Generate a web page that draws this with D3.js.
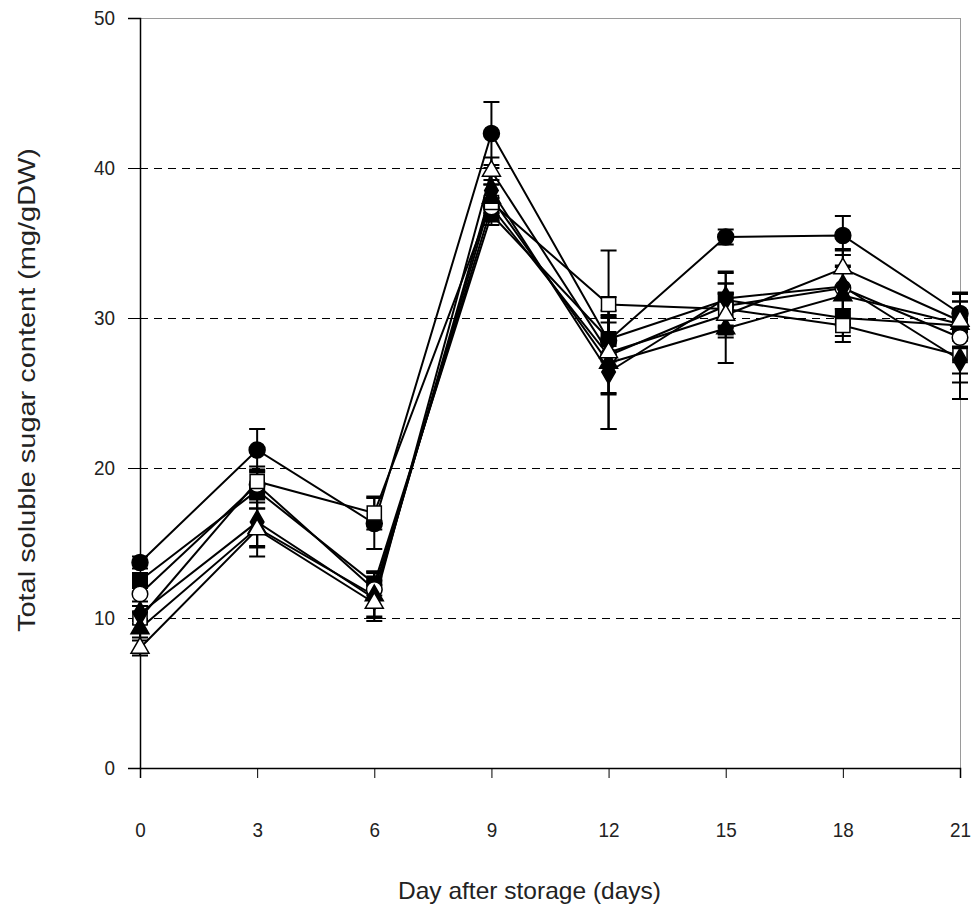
<!DOCTYPE html>
<html>
<head>
<meta charset="utf-8">
<script src="https://cdn.jsdelivr.net/npm/d3@7/dist/d3.min.js"></script>
<style>
  html, body { margin: 0; padding: 0; background: #fff; }
  svg { display: block; font-family: "Liberation Sans", Arial, sans-serif; }
</style>
</head>
<body>
<svg id="chart" width="977" height="916"></svg>
<script>
// Storage days sampled
const days = [0, 3, 6, 9, 12, 15, 18, 21];
const yTicks = [0, 10, 20, 30, 40, 50];

// Total soluble sugar (mg/gDW) per treatment, with standard errors
const filledCircle   = [13.7, 21.2, 16.3, 42.3, 28.5, 35.4, 35.5, 30.3];
const filledCircleE  = [0.4, 1.4, 1.7, 2.1, 1.2, 0.5, 1.3, 0.8];
const filledSquare   = [12.5, 18.5, 12.3, 36.9, 28.6, 31.2, 30.0, 29.5];
const filledSquareE  = [0.5, 1.2, 0.8, 0.7, 1.5, 1.8, 1.2, 1.0];
const openCircle     = [11.6, 18.9, 11.9, 37.4, 27.5, 30.8, 32.0, 28.7];
const openCircleE    = [0.5, 1.0, 1.2, 0.6, 2.5, 1.5, 1.4, 3.0];
const openSquare     = [10.0, 19.1, 17.0, 37.7, 30.9, 30.6, 29.5, 27.5];
const openSquareE    = [0.4, 1.0, 1.1, 1.2, 3.6, 1.7, 1.1, 1.2];
const filledDiamond  = [10.3, 16.4, 11.3, 38.5, 26.4, 31.3, 32.1, 27.2];
const filledDiamondE = [0.5, 1.6, 1.2, 1.5, 3.8, 1.8, 2.5, 2.6];
const filledTriangle = [9.3, 16.0, 11.5, 38.0, 27.0, 29.3, 31.5, 29.6];
const filledTriangleE= [0.6, 1.3, 1.5, 1.2, 4.4, 2.3, 2.0, 1.5];
const openTriangle   = [8.0, 15.9, 11.0, 39.8, 27.7, 30.2, 33.3, 29.8];
const openTriangleE  = [0.5, 1.8, 1.2, 0.9, 2.8, 1.5, 1.2, 1.8];

const series = [
  { values: filledCircle,   errors: filledCircleE,   shape: d3.symbolCircle,   size: 200, fill: "#000" },
  { values: filledSquare,   errors: filledSquareE,   shape: d3.symbolSquare,   size: 210, fill: "#000" },
  { values: openCircle,     errors: openCircleE,     shape: d3.symbolCircle,   size: 190, fill: "#fff" },
  { values: openSquare,     errors: openSquareE,     shape: d3.symbolSquare,   size: 200, fill: "#fff" },
  { values: filledDiamond,  errors: filledDiamondE,  shape: d3.symbolDiamond,  size: 160, fill: "#000" },
  { values: filledTriangle, errors: filledTriangleE, shape: d3.symbolTriangle, size: 140, fill: "#000" },
  { values: openTriangle,   errors: openTriangleE,   shape: d3.symbolTriangle, size: 140, fill: "#fff" }
];

const margin = { top: 18, right: 17, bottom: 148, left: 140 };
const W = 977, H = 916;
const iw = W - margin.left - margin.right;
const ih = H - margin.top - margin.bottom;

const svg = d3.select("#chart");
const g = svg.append("g").attr("transform", `translate(${margin.left},${margin.top})`);

const x = d3.scaleLinear().domain([0, 21]).range([0, iw]);
const y = d3.scaleLinear().domain([0, 50]).range([ih, 0]);

// plot frame (top and right)
g.append("line").attr("x1", 0).attr("x2", iw).attr("y1", 0).attr("y2", 0)
  .attr("stroke", "#9a9a9a").attr("stroke-width", 1).attr("shape-rendering", "crispEdges");
g.append("line").attr("x1", iw).attr("x2", iw).attr("y1", 0).attr("y2", ih)
  .attr("stroke", "#9a9a9a").attr("stroke-width", 1).attr("shape-rendering", "crispEdges");

// dashed gridlines
g.selectAll(".grid").data(yTicks.filter(t => t > 0 && t < 50)).enter()
  .append("line")
  .attr("x1", 0).attr("x2", iw)
  .attr("y1", d => y(d)).attr("y2", d => y(d))
  .attr("stroke", "#000").attr("stroke-width", 1)
  .attr("shape-rendering", "crispEdges")
  .attr("stroke-dasharray", "8,6");

// narrow-set tick numerals
function styleTickText(sel) {
  sel.style("font-size", "21px").attr("fill", "#222")
    .style("font-family", "'Liberation Sans', Arial, sans-serif")
    .attr("textLength", function () { return 10.5 * this.textContent.length; })
    .attr("lengthAdjust", "spacingAndGlyphs");
}

// y axis
const yAxis = g.append("g").call(
  d3.axisLeft(y).tickValues(yTicks).tickSize(12).tickPadding(13).tickFormat(d3.format("d"))
);
yAxis.attr("font-size", null).attr("font-family", null);
yAxis.select(".domain").attr("stroke", "#000").attr("stroke-width", 1.5);
yAxis.selectAll(".tick line").attr("stroke", "#000").attr("stroke-width", 1);
yAxis.selectAll(".tick text").call(styleTickText);

// x axis
const xAxis = g.append("g").attr("transform", `translate(0,${ih})`).call(
  d3.axisBottom(x).tickValues(days).tickSize(10).tickPadding(44).tickFormat(d3.format("d"))
);
xAxis.attr("font-size", null).attr("font-family", null);
xAxis.select(".domain").attr("stroke", "#000").attr("stroke-width", 1.5);
xAxis.selectAll(".tick line").attr("stroke", "#000").attr("stroke-width", 1);
xAxis.selectAll(".tick text").call(styleTickText);

// axis titles
svg.append("text")
  .attr("x", 529.5).attr("y", 899)
  .attr("text-anchor", "middle").style("font-size", "24px").attr("fill", "#222")
  .attr("textLength", 263).attr("lengthAdjust", "spacingAndGlyphs")
  .text("Day after storage (days)");
svg.append("text")
  .attr("transform", `translate(35,390) rotate(-90)`)
  .attr("text-anchor", "middle").style("font-size", "24px").attr("fill", "#222")
  .attr("textLength", 484).attr("lengthAdjust", "spacingAndGlyphs")
  .text("Total soluble sugar content (mg/gDW)");

const line = d3.line().x((d, i) => x(days[i])).y(d => y(d));

// connecting lines
series.forEach(s => {
  g.append("path").datum(s.values)
    .attr("d", line)
    .attr("fill", "none").attr("stroke", "#000").attr("stroke-width", 2);
});

// error bars
const cap = 8;
series.forEach(s => {
  const eg = g.append("g").attr("stroke", "#000").attr("stroke-width", 2);
  s.values.forEach((v, i) => {
    const cx = x(days[i]);
    const y1 = y(v + s.errors[i]), y0 = y(v - s.errors[i]);
    eg.append("line").attr("x1", cx).attr("x2", cx).attr("y1", y1).attr("y2", y0);
    eg.append("line").attr("x1", cx - cap).attr("x2", cx + cap).attr("y1", y1).attr("y2", y1);
    eg.append("line").attr("x1", cx - cap).attr("x2", cx + cap).attr("y1", y0).attr("y2", y0);
  });
});

// markers
series.forEach(s => {
  const sym = d3.symbol().type(s.shape).size(s.size);
  g.append("g").selectAll("path").data(s.values).enter()
    .append("path")
    .attr("d", sym)
    .attr("transform", (d, i) => `translate(${x(days[i])},${y(d)})`)
    .attr("fill", s.fill).attr("stroke", "#000").attr("stroke-width", 1.5);
});
</script>
</body>
</html>
